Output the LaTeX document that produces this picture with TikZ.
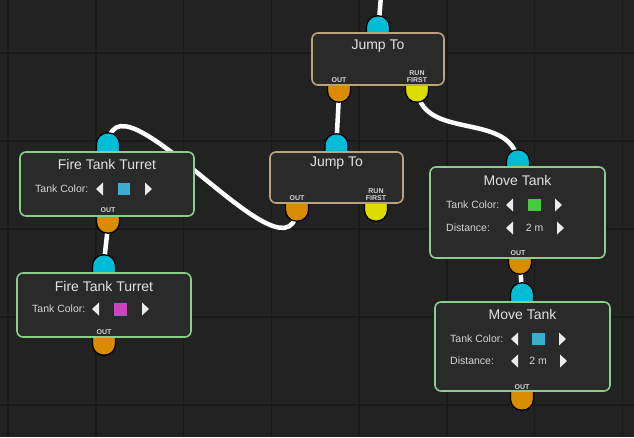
\documentclass[tikz,border=0pt]{standalone}
\usepackage{fontspec}
\setmainfont{Liberation Sans}
\usepackage{tikz}
\usetikzlibrary{positioning,calc}

\definecolor{canvas}{HTML}{222222}
\definecolor{gridline}{HTML}{1A1A1A}
\definecolor{boxfill}{HTML}{2A2A2A}
\definecolor{actionedge}{HTML}{88D088}
\definecolor{jumpedge}{HTML}{BBA37D}
\definecolor{inport}{HTML}{00BCD6}
\definecolor{outport}{HTML}{D98C00}
\definecolor{runport}{HTML}{DCDC00}
\definecolor{swcyan}{HTML}{3AAED0}
\definecolor{swgreen}{HTML}{44CC3C}
\definecolor{swmagenta}{HTML}{CC44BB}
\definecolor{titletext}{HTML}{E2E2E2}
\definecolor{fieldtext}{HTML}{D6D6D6}

\pgfdeclarelayer{grid}
\pgfdeclarelayer{wires}
\pgfdeclarelayer{ports}
\pgfsetlayers{grid,wires,ports,main}

\begin{document}
\begin{tikzpicture}[x=1pt, y=-1pt,
	block/.style={draw, line width=1.6pt, fill=boxfill, rounded corners=6pt,
		minimum width=174, minimum height=64, inner sep=0},
	action/.style={block, draw=actionedge},
	jump/.style={block, draw=jumpedge, minimum width=132, minimum height=52},
	port/.style={draw=black, line width=1.3pt, rounded corners=11pt,
		minimum width=23, minimum height=34, inner sep=0},
	wire/.style={draw=white, line width=4.5pt},
	title/.style={text=titletext, font=\fontsize{14}{16}\selectfont, inner sep=0},
	field/.style={text=fieldtext, font=\fontsize{10.5}{12}\selectfont, inner sep=0, anchor=west},
	value/.style={text=fieldtext, font=\fontsize{10.5}{12}\selectfont, inner sep=0},
	portlbl/.style={text=fieldtext, font=\bfseries\fontsize{7}{7.3}\selectfont,
		inner sep=0, align=center},
	swatch/.style={minimum size=12.5, inner sep=0},
	arrowfill/.style={fill=white!92!black}
	]

	\newcommand{\Stepper}[3]{
		\fill[arrowfill] (#1,#3) -- ++(7,-6.5) -- ++(0,13) -- cycle;
		\fill[arrowfill] (#2,#3) -- ++(-7,-6.5) -- ++(0,13) -- cycle;
	}

	\useasboundingbox (0,0) rectangle (634,437);

	% canvas and grid
	\begin{pgfonlayer}{grid}
		\fill[canvas] (0,0) rectangle (634,437);
		\foreach \gx in {0,...,7}
		\draw[gridline, line width=1.5pt] (8+87.75*\gx,0) -- (8+87.75*\gx,437);
		\foreach \gy in {0,...,4}
		\draw[gridline, line width=1.5pt] (0,53+88*\gy) -- (634,53+88*\gy);
	\end{pgfonlayer}

	% nodes
	\node[jump] (jt1) at (378,59) {};
	\node[jump, minimum width=133, minimum height=51] (jt2) at (336.5,177.5) {};
	\node[action] (ftt1) at (107,184) {};
	\node[action] (ftt2) at (104,305) {};
	\node[action, minimum width=175, minimum height=91] (mt1) at (517.5,212.5) {};
	\node[action, minimum width=175, minimum height=89] (mt2) at (522.5,346.5) {};

	\node[title] (jt1title) at (378,46) {Jump To};
	\node[title] (jt2title) at (336.5,163) {Jump To};
	\node[title] (ftt1title) at (107,164) {Fire Tank Turret};
	\node[title] (ftt2title) at (104,286) {Fire Tank Turret};
	\node[title] (mt1title) at (517.5,180) {Move Tank};
	\node[title] (mt2title) at (522.5,314) {Move Tank};

	% fields
	\node[field] (ftt1color) at (35,189) {Tank Color:};
	\node[swatch, fill=swcyan] (ftt1sw) at (124,189) {};
	\Stepper{96}{152}{189}

	\node[field] (ftt2color) at (32,309) {Tank Color:};
	\node[swatch, fill=swmagenta] (ftt2sw) at (120.5,309.5) {};
	\Stepper{92}{149}{309}

	\node[field] (mt1color) at (446,205) {Tank Color:};
	\node[swatch, fill=swgreen] (mt1sw) at (534.5,205) {};
	\Stepper{506}{562}{205}
	\node[field] (mt1dist) at (446,228) {Distance:};
	\node[value] (mt1val) at (534.5,228) {2 m};
	\Stepper{506}{564}{228}

	\node[field] (mt2color) at (450,339) {Tank Color:};
	\node[swatch, fill=swcyan] (mt2sw) at (538.5,339) {};
	\Stepper{511}{566}{339}
	\node[field] (mt2dist) at (450,361) {Distance:};
	\node[value] (mt2val) at (538,361) {2 m};
	\Stepper{511}{567}{361}

	% port labels
	\node[portlbl] (jt1outlbl) at (339,80) {OUT};
	\node[portlbl] (jt1runlbl) at (417,76.5) {RUN\\FIRST};
	\node[portlbl] (jt2outlbl) at (297,198) {OUT};
	\node[portlbl] (jt2runlbl) at (376,194.5) {RUN\\FIRST};
	\node[portlbl] (ftt1outlbl) at (108,210) {OUT};
	\node[portlbl] (ftt2outlbl) at (104,332) {OUT};
	\node[portlbl] (mt1outlbl) at (518,253) {OUT};
	\node[portlbl] (mt2outlbl) at (522,387) {OUT};

	% ports
	\begin{pgfonlayer}{ports}
		\node[port, fill=inport, anchor=north, yshift=17pt] (jt1in) at (jt1.north) {};
		\node[port, fill=outport, anchor=south, yshift=-17pt] (jt1out) at ([xshift=-39pt]jt1.south) {};
		\node[port, fill=runport, anchor=south, yshift=-17pt] (jt1run) at ([xshift=39pt]jt1.south) {};

		\node[port, fill=inport, anchor=north, yshift=18pt] (jt2in) at (jt2.north) {};
		\node[port, fill=outport, anchor=south, yshift=-18pt] (jt2out) at ([xshift=-39.5pt]jt2.south) {};
		\node[port, fill=runport, anchor=south, yshift=-18pt] (jt2run) at ([xshift=39.5pt]jt2.south) {};

		\node[port, fill=inport, anchor=north, yshift=19pt] (ftt1in) at ([xshift=1pt]ftt1.north) {};
		\node[port, fill=outport, anchor=south, yshift=-17pt] (ftt1out) at ([xshift=1pt]ftt1.south) {};

		\node[port, fill=inport, anchor=north, yshift=18pt] (ftt2in) at (ftt2.north) {};
		\node[port, fill=outport, anchor=south, yshift=-18pt] (ftt2out) at (ftt2.south) {};

		\node[port, fill=inport, anchor=north, yshift=17pt] (mt1in) at ([xshift=0.5pt]mt1.north) {};
		\node[port, fill=outport, anchor=south, yshift=-16pt] (mt1out) at ([xshift=2.5pt]mt1.south) {};

		\node[port, fill=inport, anchor=north, yshift=19pt] (mt2in) at ([xshift=-0.5pt]mt2.north) {};
		\node[port, fill=outport, anchor=south, yshift=-19pt] (mt2out) at ([xshift=-0.5pt]mt2.south) {};
	\end{pgfonlayer}

	% wires
	\begin{pgfonlayer}{wires}
		\coordinate (jt1feed) at (381,-4);
		\draw[wire] (jt1feed) -- (jt1in.center);
		\draw[wire] (jt1out.center) .. controls +(0,20) and +(0,-20) .. (jt2in.center);
		\draw[wire] (jt1run.center) .. controls +(0,60) and +(0,-60) .. (mt1in.center);
		\draw[wire] (jt2out.center) .. controls +(0,100) and +(0,-100) .. (ftt1in.center);
		\draw[wire] (ftt1out.center) .. controls +(0,20) and +(0,-20) .. (ftt2in.center);
		\draw[wire] (mt1out.center) .. controls +(0,15) and +(0,-15) .. (mt2in.center);
	\end{pgfonlayer}

\end{tikzpicture}
\end{document}
